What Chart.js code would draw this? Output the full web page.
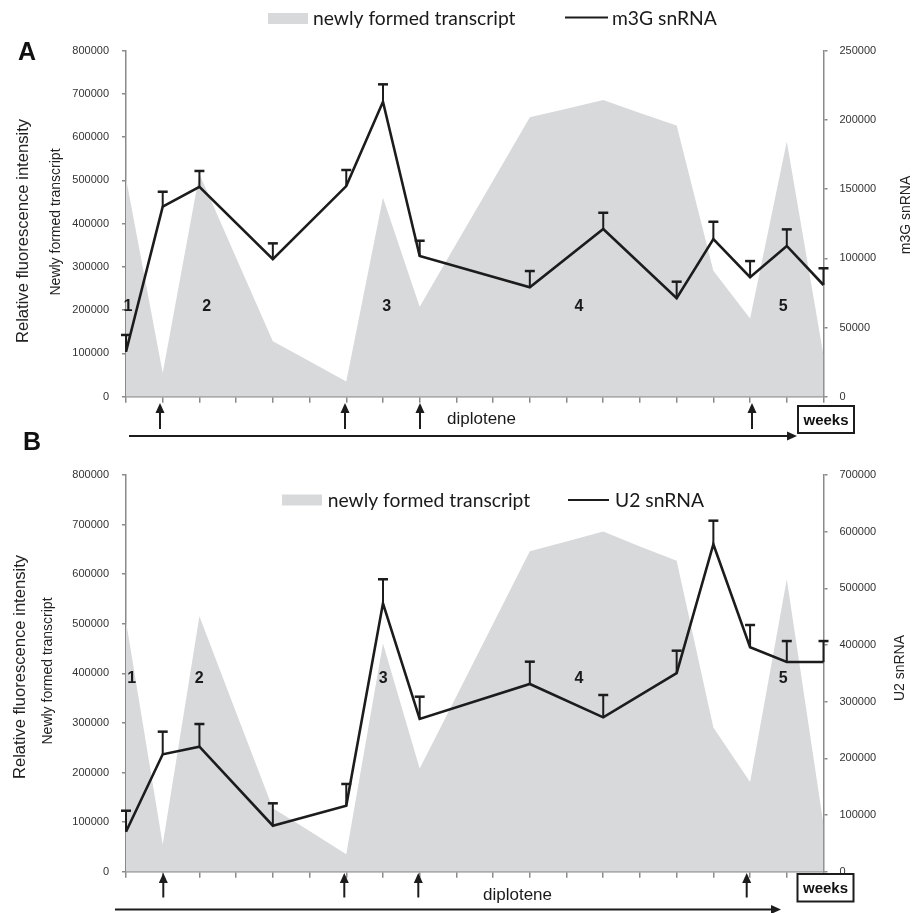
<!DOCTYPE html>
<html><head><meta charset="utf-8">
<script src="https://cdn.jsdelivr.net/npm/chart.js@4/dist/chart.umd.min.js"></script>
<style>
html,body{margin:0;padding:0;background:#fff;}
body{width:922px;height:913px;position:relative;overflow:hidden;}
canvas{position:absolute;left:0;}
#c1{top:0;} #c2{top:420px;}
</style></head><body>
<canvas id="c1" width="922" height="445"></canvas>
<canvas id="c2" width="922" height="493"></canvas>
<script>
// ---------- DATA ----------
const samples = ['1','2','3','4','5','6','7','8','9','10','11','12','13','14','15','16','17','18','19','20'];
const transcript = [505000, 55000, 515000, 321000, 128000, 82000, 35000, 460000, 208000, 354000, 500000, 646000, 666000, 686000, 656000, 627000, 291000, 181000, 590000, 95000];
const m3G    = [32500, 137300, 151700, null, 99300, null, 152200, 213100, 101700, null, null, 79000, null, 121200, null, 71100, 113900, 86300, 108900, 80700];
const m3GErr = [44600, 148100, 163100, null, 110800, null, 163800, 225700, 112700, null, null, 90800, null, 132900, null, 83100, 126400, 98000, 120900, 92800];
const u2     = [70600, 207200, 220600, null, 81200, null, 116500, 473600, 269500, null, null, 331200, null, 272400, null, 350300, 577800, 396000, 370000, 370000];
const u2Err  = [107600, 247100, 260600, null, 120700, null, 154800, 516000, 308800, null, null, 370600, null, 311800, null, 390000, 619400, 435300, 407000, 407000];
const leftTickLabels = ['0','100000','200000','300000','400000','500000','600000','700000','800000'];
const m3GTickLabels = ['0','50000','100000','150000','200000','250000'];
const u2TickLabels = ['0','100000','200000','300000','400000','500000','600000','700000'];
const stageLabels = ['1','2','3','4','5'];
const areaName = 'newly formed transcript';
const leftTitle1 = 'Relative fluorescence intensity';
const leftTitle2 = 'Newly formed transcript';

// ---------- STYLE ----------
const GRAY = '#d8d9db';
const INK = '#1c1c1c';
const AXIS = '#8a8a8a';
const TICKFONT = {family:'Liberation Sans', size:11};

function upArrow(ctx, x, yTip, yBot){
  ctx.beginPath(); ctx.moveTo(x, yTip+7); ctx.lineTo(x, yBot); ctx.lineWidth = 2; ctx.strokeStyle = INK; ctx.stroke();
  ctx.beginPath(); ctx.moveTo(x, yTip); ctx.lineTo(x-4.5, yTip+10); ctx.lineTo(x+4.5, yTip+10); ctx.closePath(); ctx.fillStyle = INK; ctx.fill();
}
function rightArrow(ctx, x0, x1, y){
  ctx.beginPath(); ctx.moveTo(x0, y); ctx.lineTo(x1-6, y); ctx.lineWidth = 2; ctx.strokeStyle = INK; ctx.stroke();
  ctx.beginPath(); ctx.moveTo(x1, y); ctx.lineTo(x1-10, y-4.5); ctx.lineTo(x1-10, y+4.5); ctx.closePath(); ctx.fillStyle = INK; ctx.fill();
}
function vText(ctx, text, cx, cy, font){
  ctx.save(); ctx.translate(cx, cy); ctx.rotate(-Math.PI/2);
  ctx.font = font; ctx.textAlign = 'center'; ctx.textBaseline = 'middle'; ctx.fillStyle = '#222';
  ctx.fillText(text, 0, 0); ctx.restore();
}

const decor = {
  id: 'decor',
  afterDatasetsDraw(chart, args, o){
    const ctx = chart.ctx;
    const meta = chart.getDatasetMeta(0);
    const ys = chart.scales.y1;
    ctx.save();
    ctx.strokeStyle = INK;
    o.err.forEach((e, i) => {
      if (e == null || chart.data.datasets[0].data[i] == null) return;
      const p = meta.data[i];
      const x = p.x, y0 = p.y, y1 = ys.getPixelForValue(e);
      ctx.beginPath(); ctx.moveTo(x, y0); ctx.lineTo(x, y1); ctx.lineWidth = 2; ctx.stroke();
      ctx.beginPath(); ctx.moveTo(x-5, y1); ctx.lineTo(x+5, y1); ctx.lineWidth = 2.5; ctx.stroke();
    });
    ctx.restore();
  },
  afterDraw(chart, args, o){
    const ctx = chart.ctx;
    const off = o.offset;
    ctx.save();
    ctx.translate(0, -off);
    ctx.fillStyle = '#111'; ctx.font = 'bold 25px "Liberation Sans"'; ctx.textAlign = 'left'; ctx.textBaseline = 'alphabetic';
    ctx.fillText(o.panel, o.panelPos[0], o.panelPos[1]);
    ctx.fillStyle = GRAY; ctx.fillRect(o.legendBox[0], o.legendBox[1], 40, 11);
    ctx.fillStyle = '#1a1a1a'; ctx.font = '19.3px Lato';
    ctx.fillText(areaName, o.legendTextX, o.legendBase);
    ctx.beginPath(); ctx.moveTo(o.lineLegend[0], o.lineLegend[2]); ctx.lineTo(o.lineLegend[1], o.lineLegend[2]);
    ctx.lineWidth = 2.2; ctx.strokeStyle = INK; ctx.stroke();
    ctx.fillText(o.lineName, o.lineTextX, o.legendBase);
    vText(ctx, leftTitle1, o.titleL1[0], o.titleL1[1], '16.6px "Liberation Sans"');
    vText(ctx, leftTitle2, o.titleL2[0], o.titleL2[1], '14px "Liberation Sans"');
    vText(ctx, o.lineName, o.titleR[0], o.titleR[1], '14px "Liberation Sans"');
    ctx.font = 'bold 16px "Liberation Sans"'; ctx.textAlign = 'center'; ctx.textBaseline = 'middle'; ctx.fillStyle = '#1a1a1a';
    o.stages.forEach((sx, i) => ctx.fillText(stageLabels[i], sx, o.stageY));
    o.arrows.forEach(x => upArrow(ctx, x, o.arrowTip, o.arrowBot));
    ctx.font = '17px "Liberation Sans"'; ctx.textAlign = 'left'; ctx.textBaseline = 'alphabetic'; ctx.fillStyle = '#1a1a1a';
    ctx.fillText('diplotene', o.dipl[0], o.dipl[1]);
    rightArrow(ctx, o.longArrow[0], o.longArrow[1], o.longArrow[2]);
    const w = o.weeks;
    ctx.fillStyle = '#fff'; ctx.fillRect(w[0], w[1], w[2], w[3]);
    ctx.lineWidth = 2; ctx.strokeStyle = INK; ctx.strokeRect(w[0], w[1], w[2], w[3]);
    ctx.fillStyle = '#111'; ctx.font = 'bold 15px "Liberation Sans"'; ctx.textAlign = 'center'; ctx.textBaseline = 'middle';
    ctx.fillText('weeks', w[0] + w[2]/2, w[1] + w[3]/2 + 1);
    ctx.restore();
  }
};

function axisCommon(tickLen){
  return {
    grid: {drawOnChartArea:false, drawTicks:true, tickLength:tickLen, color:AXIS, lineWidth:1.5},
    border: {display:true, color:AXIS, width:1.5}
  };
}

function makeChart(id, cfg){
  return new Chart(document.getElementById(id), {
    type: 'line',
    data: {
      labels: samples,
      datasets: [
        {label: cfg.lineName, data: cfg.line, yAxisID:'y1', borderColor:INK, borderWidth:2.6, pointRadius:0, tension:0, spanGaps:true, fill:false},
        {label: areaName, data: transcript, yAxisID:'y', borderWidth:0, borderColor:'rgba(0,0,0,0)', backgroundColor:GRAY, pointRadius:0, tension:0, fill:'origin'}
      ]
    },
    options: {
      responsive:false, animation:false, events:[],
      layout: {padding: {left:0, right:0, top:cfg.padTop, bottom:cfg.padBottom}},
      plugins: {legend:{display:false}, tooltip:{enabled:false}, decor: cfg.decor},
      scales: {
        x: Object.assign({type:'category', offset:false, ticks:{display:false},
              afterFit(s){ s.height = 6; }}, axisCommon(6)),
        y: Object.assign({position:'left', min:0, max:800000,
              ticks:{stepSize:100000, padding:13, color:'#333', font:TICKFONT, callback:(v,i)=>leftTickLabels[i]},
              afterFit(s){ s.width = 126; }}, axisCommon(4)),
        y1: Object.assign({position:'right', min:0, max:cfg.rightMax,
              ticks:{stepSize:cfg.rightStep, padding:12, color:'#333', font:TICKFONT, callback:(v,i)=>cfg.rightLabels[i]},
              afterFit(s){ s.width = 98.5; }}, axisCommon(4))
      }
    },
    plugins: [decor]
  });
}

makeChart('c1', {
  line: m3G, lineName: 'm3G snRNA', rightMax: 250000, rightStep: 50000, rightLabels: m3GTickLabels,
  padTop: 50.7, padBottom: 445 - 396.7 - 6,
  decor: {
    offset: 0, err: m3GErr, panel: 'A', panelPos: [18, 59.5],
    legendBox: [268, 13], legendTextX: 313, legendBase: 25, lineLegend: [565, 608, 17.5], lineTextX: 612, lineName: 'm3G snRNA',
    titleL1: [23, 231], titleL2: [56, 222], titleR: [906, 215],
    stages: [128, 206.7, 386.7, 579, 783.3], stageY: 307,
    arrows: [160, 345, 420, 752], arrowTip: 403, arrowBot: 429,
    dipl: [447, 424], longArrow: [129, 797, 436], weeks: [798, 406, 56, 27]
  }
});

makeChart('c2', {
  line: u2, lineName: 'U2 snRNA', rightMax: 700000, rightStep: 100000, rightLabels: u2TickLabels,
  padTop: 55, padBottom: 493 - 451.7 - 6,
  decor: {
    offset: 420, err: u2Err, panel: 'B', panelPos: [23, 450],
    legendBox: [282, 494.5], legendTextX: 327.7, legendBase: 506.5, lineLegend: [568, 609, 500], lineTextX: 615, lineName: 'U2 snRNA',
    titleL1: [20, 667], titleL2: [48, 671], titleR: [900, 668],
    stages: [131.7, 199.3, 383.3, 579, 783.3], stageY: 679,
    arrows: [163.3, 344.3, 418.3, 746.7], arrowTip: 873, arrowBot: 897.5,
    dipl: [483, 900], longArrow: [115, 781, 909.5], weeks: [797.5, 874, 56, 27.5]
  }
});
</script>
</body></html>
